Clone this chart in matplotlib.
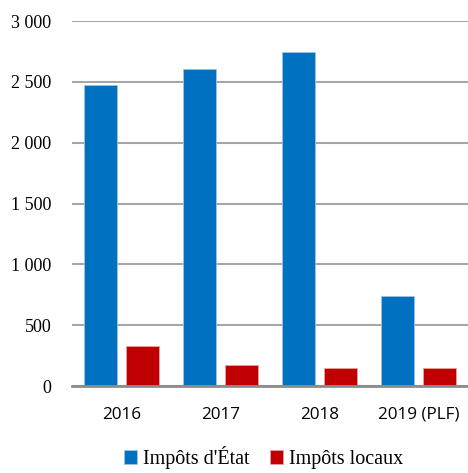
import numpy as np
import matplotlib.pyplot as plt

years = ["2016", "2017", "2018", "2019 (PLF)"]
impots_etat = [2475, 2605, 2745, 740]
impots_locaux = [325, 170, 148, 148]

fig = plt.figure(figsize=(4.68, 4.73), dpi=100)
ax = fig.add_axes([72 / 468, 1 - 386 / 473, 396 / 468, 365 / 473])

x = np.arange(len(years))
w = 0.335
ax.bar(x - 0.21, impots_etat, w, color="#0070C0", edgecolor="#9cc3e6", linewidth=0.6,
       label="Impôts d'État", zorder=3)
ax.bar(x + 0.21, impots_locaux, w, color="#C00000", edgecolor="#e8a0a0", linewidth=0.6,
       label="Impôts locaux", zorder=3)

ax.set_xlim(-0.5, len(years) - 0.5)
ax.set_ylim(0, 3000)
ax.set_yticks(range(0, 3001, 500))
ax.set_yticklabels([f"{v:,}".replace(",", " ") for v in range(0, 3001, 500)],
                   family="Liberation Serif", fontsize=13)
ax.set_xticks(x)
ax.set_xticklabels(years, family="Open Sans", fontsize=12.3)
ax.tick_params(axis="both", length=0)
ax.tick_params(axis="x", pad=15)
ax.tick_params(axis="y", pad=15)

ax.grid(axis="y", color="#a6a6a6", linewidth=1.5, zorder=0)
for s in ["top", "right", "left"]:
    ax.spines[s].set_visible(False)
ax.spines["bottom"].set_color("#8c8c8c")
ax.spines["bottom"].set_linewidth(2)
ax.spines["bottom"].set_zorder(4)

fig.legend(loc="lower center", bbox_to_anchor=(0.563, -0.03), ncol=2, frameon=False,
           prop={"family": "Liberation Serif", "size": 14.5}, handlelength=0.65,
           handleheight=0.75, handletextpad=0.3, columnspacing=1.0)

plt.savefig("out.png", dpi=100)
plt.close()
